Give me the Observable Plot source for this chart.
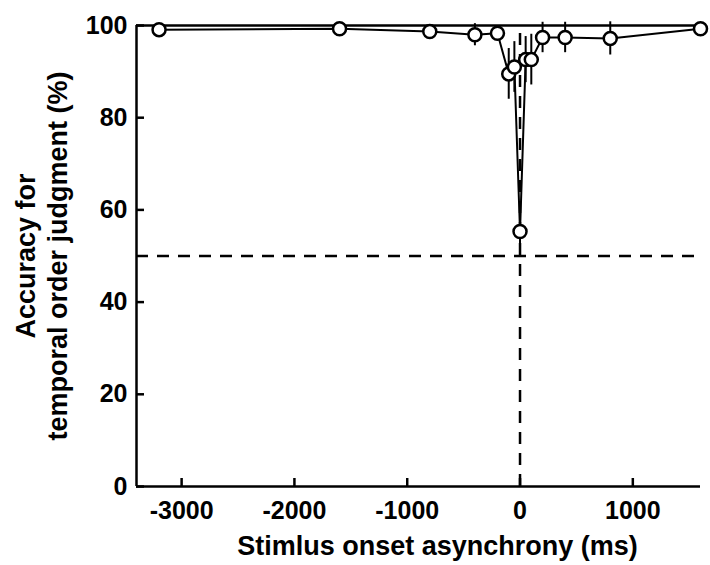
<!DOCTYPE html>
<html>
<head>
<meta charset="utf-8">
<script src="https://cdn.jsdelivr.net/npm/d3@7"></script>
<script src="https://cdn.jsdelivr.net/npm/@observablehq/plot@0.6"></script>
<style>
  body { margin: 0; background: #fff; }
</style>
</head>
<body>
<div id="chart"></div>
<script>
// Stimulus onset asynchrony (ms) and mean accuracy (%) with error bars
const soa = [-3200, -1600, -800, -400, -200, -100, -50, 0, 50, 100, 200, 400, 800, 1600];
const accuracy = [99.1, 99.3, 98.7, 98.0, 98.3, 89.5, 91.0, 55.3, 92.6, 92.6, 97.4, 97.4, 97.2, 99.3];
const errorBar = [0.5, 0.5, 1.0, 2.4, 1.5, 5.5, 5.5, 5.0, 5.0, 5.5, 3.3, 3.3, 3.6, 0.5];

const xTicks = [-3000, -2000, -1000, 0, 1000];
const yTicks = [0, 20, 40, 60, 80, 100];
const chanceLevel = 50;
const ceilingLevel = 100;

const xTitle = "Stimlus onset asynchrony (ms)";
const yTitle = "Accuracy for\ntemporal order judgment (%)";

const rows = soa.map((x, i) => ({
  x,
  y: accuracy[i],
  lo: accuracy[i] - errorBar[i],
  hi: accuracy[i] + errorBar[i]
}));

const W = 710, H = 565;
const mL = 136, mR = 10, mT = 25, mB = 79;
const frameW = W - mL - mR, frameH = H - mT - mB;
const tickLen = 8;
const xMin = -3400, xMax = 1600;
const plainNumber = d => String(d);

const chart = Plot.plot({
  width: W,
  height: H,
  marginLeft: mL,
  marginRight: mR,
  marginTop: mT,
  marginBottom: mB,
  x: {domain: [xMin, xMax]},
  y: {domain: [0, 100]},
  style: {
    fontFamily: "'Liberation Sans', Arial, Helvetica, sans-serif",
    fontWeight: "bold",
    fontSize: "25px",
    color: "black",
    background: "white"
  },
  marks: [
    // reference lines: chance level and simultaneity
    Plot.ruleY([chanceLevel], {strokeDasharray: "12,9", strokeWidth: 2.5}),
    Plot.ruleX([0], {y1: 0, y2: 100, strokeDasharray: "12,9", strokeWidth: 2.5}),
    // axis lines and ceiling line
    Plot.ruleY([0], {strokeWidth: 2.5}),
    Plot.ruleX([xMin], {strokeWidth: 2.5}),
    Plot.ruleY([ceilingLevel], {strokeWidth: 2.5}),
    // inward ticks
    Plot.tickX(xTicks, {x: d => d, insetTop: frameH - tickLen, strokeWidth: 2.5}),
    Plot.tickY(yTicks, {y: d => d, insetRight: frameW - tickLen, strokeWidth: 2.5}),
    Plot.axisX(xTicks, {tickSize: 0, tickPadding: 15, fontSize: 25, label: null, tickFormat: plainNumber}),
    Plot.axisY(yTicks, {tickSize: 0, tickPadding: 9, fontSize: 25, label: null, tickFormat: plainNumber}),
    // data
    Plot.ruleX(rows, {x: "x", y1: "lo", y2: "hi", strokeWidth: 2}),
    Plot.line(rows, {x: "x", y: "y", strokeWidth: 2}),
    Plot.dot(rows, {x: "x", y: "y", r: 6.5, fill: "white", stroke: "black", strokeWidth: 2.5}),
    // axis titles
    Plot.text([xTitle], {text: d => d, frameAnchor: "bottom", dx: 19, dy: 60, fontSize: 27, lineAnchor: "middle"}),
    Plot.text([yTitle], {text: d => d, frameAnchor: "left", rotate: -90, dx: -96, fontSize: 27, lineHeight: 1.2, lineAnchor: "middle", textAnchor: "middle"})
  ]
});

document.getElementById("chart").appendChild(chart);
</script>
</body>
</html>
